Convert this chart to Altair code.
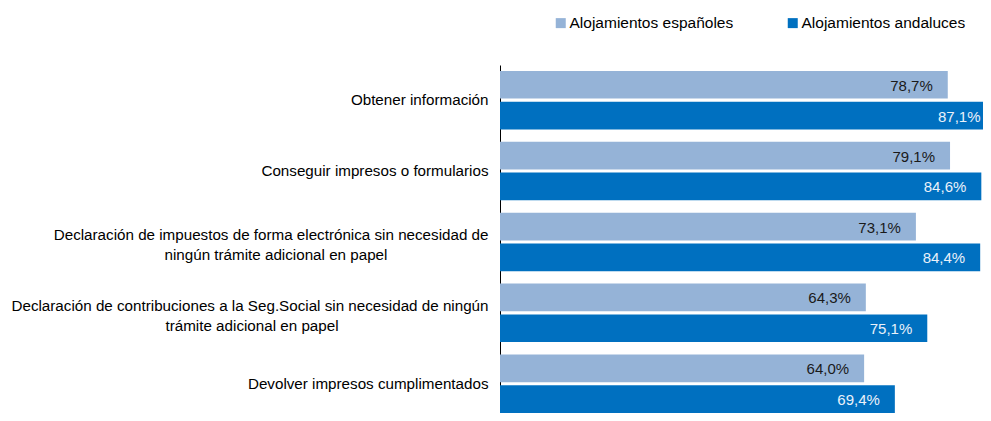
import altair as alt
import pandas as pd

categories = [
    "Obtener información",
    "Conseguir impresos o formularios",
    "Declaración de impuestos de forma electrónica sin necesidad de|ningún trámite adicional en papel",
    "Declaración de contribuciones a la Seg.Social sin necesidad de ningún|trámite adicional en papel",
    "Devolver impresos cumplimentados",
]
series = ["Alojamientos españoles", "Alojamientos andaluces"]
espanoles = [78.7, 79.1, 73.1, 64.3, 64.0]
andaluces = [87.1, 84.6, 84.4, 75.1, 69.4]

colors = ["#95B3D7", "#0070C0"]
FONT = "Liberation Sans"

rows = []
for c, e, a in zip(categories, espanoles, andaluces):
    for s, v in zip(series, [e, a]):
        rows.append({"cat": c, "serie": s, "val": v,
                     "lab": f"{v:.1f}".replace(".", ",") + "%"})
df = pd.DataFrame(rows)
df_cat = pd.DataFrame({"cat": categories})

yscale = alt.Scale(domain=categories, paddingInner=0.175, paddingOuter=0.0416, align=1)

ycommon = alt.Y(
    "cat:N", sort=categories, scale=yscale, title=None,
    axis=alt.Axis(
        domain=True, domainColor="#000000", domainWidth=1, ticks=False, grid=False,
        labelExpr="split(datum.label, '|')[0]",
        labelFont=FONT, labelFontSize=15.2, labelColor="#000000",
        labelPadding=12, labelLimit=600,
        labelOffset={"condition": {"test": "indexof(datum.value, '|') >= 0", "value": -7}, "value": 0},
    ),
)

base = alt.Chart(df).encode(
    y=ycommon,
    yOffset=alt.YOffset("serie:N", sort=series,
                        scale=alt.Scale(domain=series, paddingInner=0.1, paddingOuter=0)),
)

xscale = alt.Scale(domain=[0, 86.3], nice=False, zero=True)

bars = base.mark_bar(clip=True).encode(
    x=alt.X("val:Q", scale=xscale, axis=None),
    color=alt.Color(
        "serie:N", sort=series, scale=alt.Scale(domain=series, range=colors),
        legend=alt.Legend(
            title=None, orient="none", legendX=53, legendY=-50, direction="horizontal",
            symbolType="square", symbolSize=100, symbolStrokeWidth=0,
            labelFont=FONT, labelFontSize=15.5, labelColor="#000000", labelOffset=1,
            labelLimit=400, columnPadding=51, padding=0,
        ),
    ),
)

labels = base.mark_text(align="right", baseline="middle", dx=-15, dy=1,
                        font=FONT, fontSize=15).encode(
    x=alt.X("val:Q", scale=xscale, axis=None),
    text="lab:N",
    color=alt.condition("datum.serie == 'Alojamientos andaluces'",
                        alt.value("#EAF1FA"), alt.value("#1A1A1A")),
)

line2 = alt.Chart(df_cat).transform_filter(
    "indexof(datum.cat, '|') >= 0"
).transform_calculate(
    l1="split(datum.cat, '|')[0]",
    l2="split(datum.cat, '|')[1]",
).transform_calculate(
    cx="-12 - 3.42 * length(datum.l1)"
).mark_text(align="center", baseline="middle", dy=13, font=FONT, fontSize=15.2,
            color="#000000").encode(
    y=alt.Y("cat:N", sort=categories, scale=yscale, title=None),
    x=alt.X("cx:Q", scale=None, axis=None),
    text="l2:N",
)

chart = alt.layer(bars, labels, line2).resolve_scale(x="independent").properties(
    width=491, height=348,
    autosize=alt.AutoSizeParams(type="none"),
    padding={"left": 492, "top": 57, "right": -8, "bottom": 0},
).configure(font=FONT).configure_view(stroke=None)

chart.save("out.html", embed_options={"renderer": "svg", "actions": False})
